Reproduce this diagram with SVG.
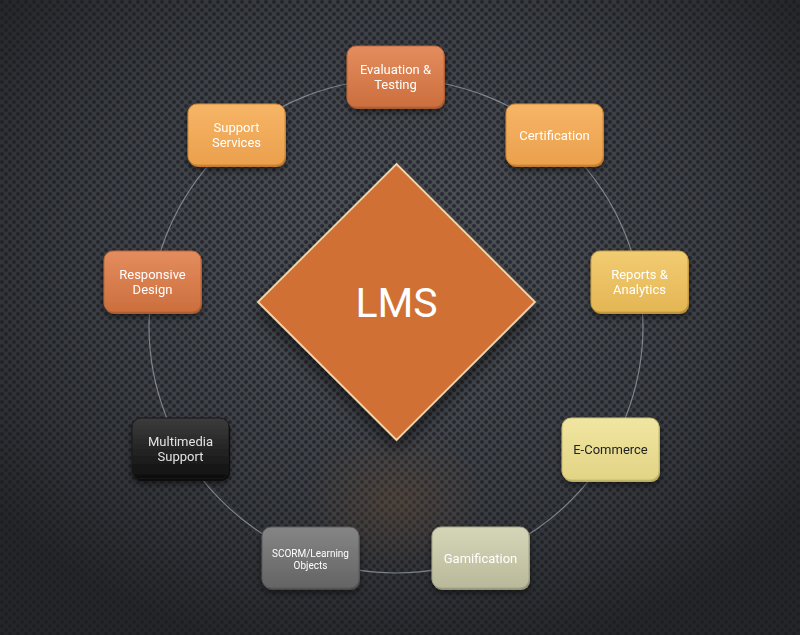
<svg xmlns="http://www.w3.org/2000/svg" width="800" height="635" viewBox="0 0 800 635">
<defs>
  <radialGradient id="bg" cx="50%" cy="40%" r="65%">
    <stop offset="0" stop-color="#50545b"/>
    <stop offset="0.6" stop-color="#3b3e44"/>
    <stop offset="1" stop-color="#232528"/>
  </radialGradient>
  <pattern id="dots" width="8" height="8" patternUnits="userSpaceOnUse">
    <circle cx="2" cy="2" r="2" fill="#1a1c1f" fill-opacity="0.7"/>
    <circle cx="6" cy="6" r="2" fill="#1a1c1f" fill-opacity="0.7"/>
  </pattern>
  <radialGradient id="glow" cx="50%" cy="50%" r="50%">
    <stop offset="0" stop-color="#6a4a30" stop-opacity="0.35"/>
    <stop offset="1" stop-color="#6a4a30" stop-opacity="0"/>
  </radialGradient>
  <linearGradient id="gRust" x1="0" y1="0" x2="0" y2="1">
    <stop offset="0" stop-color="#e48d5e"/><stop offset="1" stop-color="#cc6e3e"/>
  </linearGradient>
  <linearGradient id="gOrange" x1="0" y1="0" x2="0" y2="1">
    <stop offset="0" stop-color="#f6b567"/><stop offset="1" stop-color="#eba04c"/>
  </linearGradient>
  <linearGradient id="gGold" x1="0" y1="0" x2="0" y2="1">
    <stop offset="0" stop-color="#f2cc72"/><stop offset="1" stop-color="#e4b654"/>
  </linearGradient>
  <linearGradient id="gPale" x1="0" y1="0" x2="0" y2="1">
    <stop offset="0" stop-color="#f1e6a2"/><stop offset="1" stop-color="#e2d484"/>
  </linearGradient>
  <linearGradient id="gSage" x1="0" y1="0" x2="0" y2="1">
    <stop offset="0" stop-color="#d5d5b8"/><stop offset="1" stop-color="#b9b99a"/>
  </linearGradient>
  <linearGradient id="gGray" x1="0" y1="0" x2="0" y2="1">
    <stop offset="0" stop-color="#858585"/><stop offset="1" stop-color="#646464"/>
  </linearGradient>
  <linearGradient id="gBlack" x1="0" y1="0" x2="0" y2="1">
    <stop offset="0" stop-color="#3c3c3c"/><stop offset="1" stop-color="#0e0e0e"/>
  </linearGradient>
  <filter id="sh" x="-20%" y="-20%" width="140%" height="150%">
    <feDropShadow dx="0" dy="3" stdDeviation="3" flood-color="#000" flood-opacity="0.5"/>
  </filter>
  <filter id="dsh" x="-20%" y="-20%" width="140%" height="150%">
    <feDropShadow dx="0" dy="8" stdDeviation="8" flood-color="#000" flood-opacity="0.55"/>
  </filter>
</defs>
<style>
  .lbl { font-family: Roboto, "Liberation Sans", sans-serif; font-size: 13px; fill: #ffffff; text-anchor: middle; }
</style>
<rect width="800" height="635" fill="url(#bg)"/>
<rect width="800" height="635" fill="url(#dots)"/>
<ellipse cx="396" cy="500" rx="90" ry="70" fill="url(#glow)"/>

<g id="connectors">
  <circle cx="396" cy="326" r="247" fill="none" stroke="#9a9ea4" stroke-opacity="0.75" stroke-width="1.2"/>
</g>

<g id="lms">
  <polygon points="396.5,164 535,302 396.5,440 258,302" fill="#d07035" stroke="#f3d4a8" stroke-width="1.8" filter="url(#dsh)"/>
  <text x="396.5" y="317" font-family="Roboto, 'Liberation Sans', sans-serif" font-size="41" fill="#ffffff" text-anchor="middle">LMS</text>
</g>

<g id="evaluation" filter="url(#sh)">
  <rect x="348" y="48" width="97" height="61" rx="9" fill="#a85a30"/>
  <rect x="347" y="46" width="97" height="61" rx="9" fill="url(#gRust)" stroke="#b8643a"/>
  <text class="lbl" x="395.5" y="74">Evaluation &amp;</text>
  <text class="lbl" x="395.5" y="89">Testing</text>
</g>

<g id="support" filter="url(#sh)">
  <rect x="189" y="106" width="97" height="61" rx="9" fill="#c07a30"/>
  <rect x="188" y="104" width="97" height="61" rx="9" fill="url(#gOrange)" stroke="#d08838"/>
  <text class="lbl" x="236.5" y="132">Support</text>
  <text class="lbl" x="236.5" y="147">Services</text>
</g>

<g id="certification" filter="url(#sh)">
  <rect x="507" y="106" width="97" height="61" rx="9" fill="#c07a30"/>
  <rect x="506" y="104" width="97" height="61" rx="9" fill="url(#gOrange)" stroke="#d08838"/>
  <text class="lbl" x="554.5" y="140">Certification</text>
</g>

<g id="reports" filter="url(#sh)">
  <rect x="592" y="253" width="97" height="61" rx="9" fill="#b89038"/>
  <rect x="591" y="251" width="97" height="61" rx="9" fill="url(#gGold)" stroke="#c9a040"/>
  <text class="lbl" x="639.5" y="279">Reports &amp;</text>
  <text class="lbl" x="639.5" y="294">Analytics</text>
</g>

<g id="responsive" filter="url(#sh)">
  <rect x="105" y="253" width="97" height="61" rx="9" fill="#a85a30"/>
  <rect x="104" y="251" width="97" height="61" rx="9" fill="url(#gRust)" stroke="#b8643a"/>
  <text class="lbl" x="152.5" y="279">Responsive</text>
  <text class="lbl" x="152.5" y="294">Design</text>
</g>

<g id="multimedia" filter="url(#sh)">
  <rect x="133" y="420" width="97" height="61" rx="9" fill="#080808"/>
  <rect x="132" y="418" width="97" height="61" rx="9" fill="url(#gBlack)" stroke="#1a1a1a"/>
  <text class="lbl" x="180.5" y="446" style="fill:#e2e2e2">Multimedia</text>
  <text class="lbl" x="180.5" y="461" style="fill:#e2e2e2">Support</text>
</g>

<g id="ecommerce" filter="url(#sh)">
  <rect x="563" y="420" width="97" height="62" rx="9" fill="#b8ac60"/>
  <rect x="562" y="418" width="97" height="62" rx="9" fill="url(#gPale)" stroke="#c8bc70"/>
  <text class="lbl" x="610.5" y="454" style="fill:#222222">E-Commerce</text>
</g>

<g id="scorm" filter="url(#sh)">
  <rect x="263" y="529" width="97" height="61" rx="9" fill="#4a4a4a"/>
  <rect x="262" y="527" width="97" height="61" rx="9" fill="url(#gGray)" stroke="#5a5a5a"/>
  <text class="lbl" x="310.5" y="557" style="font-size:10px">SCORM/Learning</text>
  <text class="lbl" x="310.5" y="569" style="font-size:10px">Objects</text>
</g>

<g id="gamification" filter="url(#sh)">
  <rect x="433" y="529" width="97" height="61" rx="9" fill="#94947a"/>
  <rect x="432" y="527" width="97" height="61" rx="9" fill="url(#gSage)" stroke="#a4a488"/>
  <text class="lbl" x="480.5" y="563">Gamification</text>
</g>
</svg>
